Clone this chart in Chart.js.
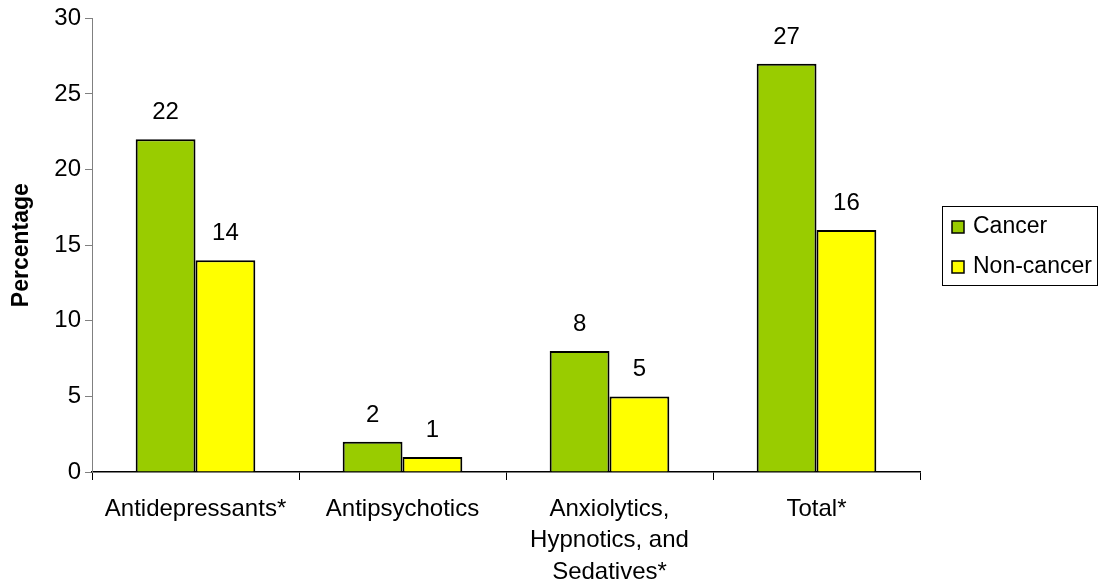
<!DOCTYPE html>
<html>
<head>
<meta charset="utf-8">
<script src="https://cdn.jsdelivr.net/npm/chart.js@4.4.1/dist/chart.umd.min.js"></script>
<style>
  html, body { margin: 0; padding: 0; background: #ffffff; }
  #wrap { width: 1103px; height: 587px; position: relative; }
</style>
</head>
<body>
<div id="wrap"><canvas id="chart" width="1103" height="587"></canvas></div>
<script>
// Psychotropic medication use by group (%)
const categories = [
  'Antidepressants*',
  'Antipsychotics',
  ['Anxiolytics,', 'Hypnotics, and', 'Sedatives*'],
  'Total*'
];
const seriesNames = ['Cancer', 'Non-cancer'];
const cancerValues = [22, 2, 8, 27];
const nonCancerValues = [14, 1, 5, 16];
const yTicks = [0, 5, 10, 15, 20, 25, 30];

const FONT = '"Liberation Sans", Arial, sans-serif';
const GREEN = '#99CC00';
const YELLOW = '#FFFF00';

// Writes each bar's value above it
const valueLabels = {
  id: 'valueLabels',
  afterDatasetsDraw(chart) {
    const ctx = chart.ctx;
    ctx.save();
    ctx.font = '24px ' + FONT;
    ctx.fillStyle = '#000';
    ctx.textAlign = 'center';
    ctx.textBaseline = 'alphabetic';
    chart.data.datasets.forEach((ds, di) => {
      chart.getDatasetMeta(di).data.forEach((bar, i) => {
        ctx.fillText(String(ds.data[i]), bar.x, bar.y - 20);
      });
    });
    ctx.restore();
  }
};

// Boxed legend at the right of the plot
const boxedLegend = {
  id: 'boxedLegend',
  afterDraw(chart) {
    const ctx = chart.ctx;
    const x0 = 942.5, y0 = 206.5, w = 155, h = 79;
    ctx.save();
    ctx.strokeStyle = '#000';
    ctx.lineWidth = 1;
    ctx.strokeRect(x0, y0, w, h);
    ctx.font = '23px ' + FONT;
    ctx.textBaseline = 'middle';
    ctx.textAlign = 'left';
    chart.data.datasets.forEach((ds, i) => {
      const cy = 227 + i * 40;
      ctx.fillStyle = ds.backgroundColor;
      ctx.fillRect(952, cy - 6, 12, 12);
      ctx.strokeStyle = '#000';
      ctx.lineWidth = 1.5;
      ctx.strokeRect(952, cy - 6, 12, 12);
      ctx.fillStyle = '#000';
      ctx.fillText(ds.label, 973, cy);
    });
    ctx.restore();
  }
};

new Chart(document.getElementById('chart'), {
  type: 'bar',
  data: {
    labels: categories,
    datasets: [
      { label: seriesNames[0], data: cancerValues, backgroundColor: GREEN,
        borderColor: '#000', borderWidth: 2, borderSkipped: 'bottom' },
      { label: seriesNames[1], data: nonCancerValues, backgroundColor: YELLOW,
        borderColor: '#000', borderWidth: 2, borderSkipped: 'bottom' }
    ]
  },
  options: {
    responsive: false,
    animation: false,
    devicePixelRatio: 1,
    layout: { padding: { top: 10, right: 183, bottom: 0, left: 0 } },
    datasets: { bar: { categoryPercentage: 0.578, barPercentage: 1.0 } },
    plugins: {
      legend: { display: false },
      tooltip: { enabled: false }
    },
    scales: {
      x: {
        grid: {
          display: true, drawOnChartArea: false, drawTicks: true,
          offset: true, tickLength: 8, color: '#000', lineWidth: 1
        },
        border: { display: true, color: '#000', width: 1.5 },
        ticks: {
          color: '#000', font: { family: FONT, size: 24, lineHeight: 1.3 },
          padding: 14, maxRotation: 0, autoSkip: false
        },
        afterFit(scale) { scale.height = 115; }
      },
      y: {
        min: 0, max: 30,
        afterBuildTicks(scale) { scale.ticks = yTicks.map(v => ({ value: v })); },
        grid: {
          display: true, drawOnChartArea: false, drawTicks: true,
          tickLength: 7, color: '#808080', lineWidth: 1
        },
        border: { display: true, color: '#808080', width: 1 },
        ticks: {
          color: '#000', font: { family: FONT, size: 24 }, padding: 4
        },
        title: {
          display: true, text: 'Percentage', color: '#000',
          font: { family: FONT, size: 23, weight: 'bold' }, padding: { top: 8, bottom: 4 }
        },
        afterFit(scale) { scale.width = 92; }
      }
    }
  },
  plugins: [valueLabels, boxedLegend]
});
</script>
</body>
</html>
